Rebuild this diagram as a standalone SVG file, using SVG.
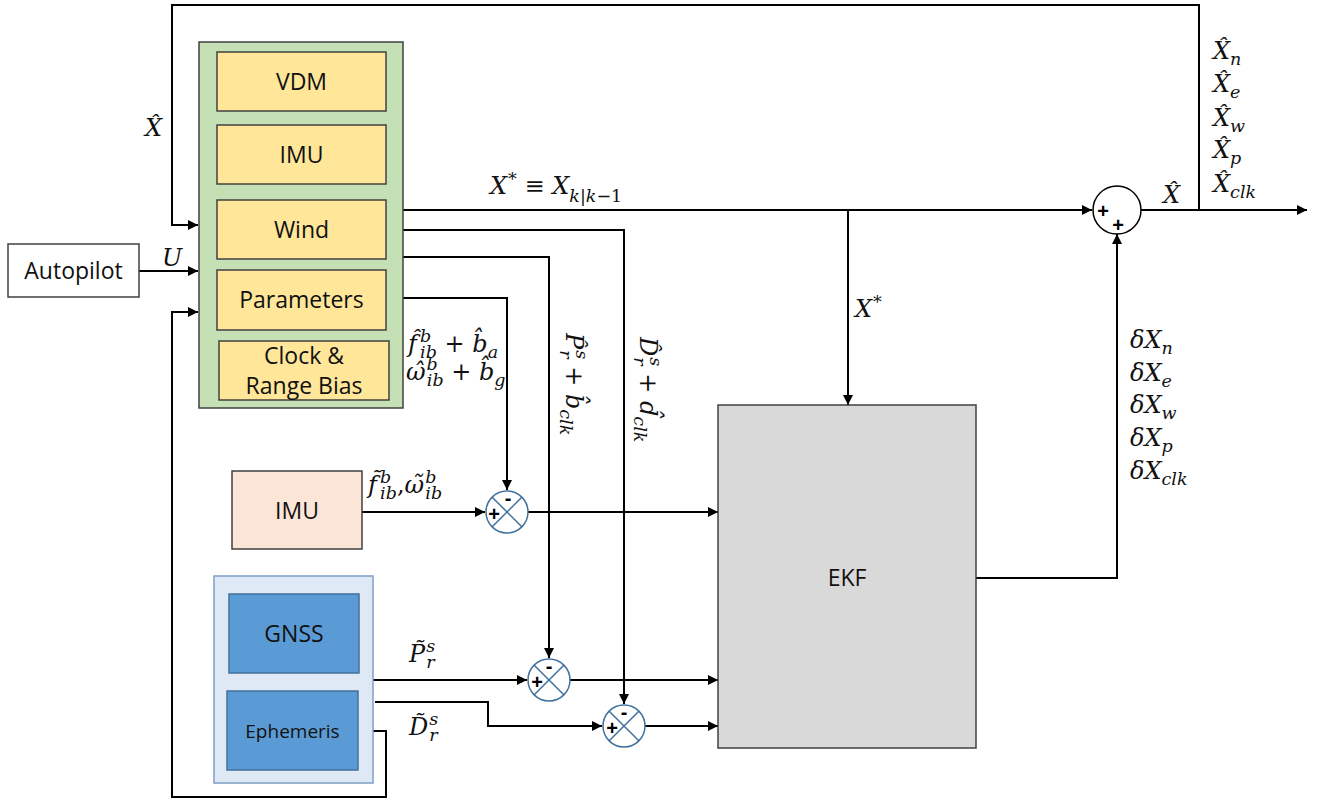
<svg xmlns="http://www.w3.org/2000/svg" width="1319" height="800" viewBox="0 0 1319 800">
<style>
.box{stroke:#404040;stroke-width:1.5}
.lbl{font-family:"Open Sans","Noto Sans",sans-serif;font-size:23px;fill:#111;text-anchor:middle}
.m{font-family:"DejaVu Serif","Liberation Serif",serif;font-style:italic;font-size:24px;fill:#111}
.u{font-style:normal}
.s{font-size:17.5px}
.wire{fill:none;stroke:#000;stroke-width:2}
.sj{fill:#fff;stroke:#41719c;stroke-width:1.5}
.sx{stroke:#41719c;stroke-width:1.5}
.sg{font-family:"Liberation Sans",Arial,sans-serif;font-weight:bold;font-size:20px;fill:#000;text-anchor:middle}
</style>
<defs>
<marker id="a" viewBox="0 0 10 10" refX="10" refY="5" markerWidth="5" markerHeight="5" orient="auto" markerUnits="strokeWidth">
<path d="M0,0 L10,5 L0,10 z" fill="#000"/>
</marker>
</defs>
<rect width="1319" height="800" fill="#fff"/>

<g id="connectors">
<path class="wire" d="M1199,210 V5 H172 V225 H198" marker-end="url(#a)"/>
<path class="wire" d="M139,271 H198" marker-end="url(#a)"/>
<path class="wire" d="M358,731 H386 V797 H172 V312 H198" marker-end="url(#a)"/>
<path class="wire" d="M403,210 H1092" marker-end="url(#a)"/>
<path class="wire" d="M848,210 V405" marker-end="url(#a)"/>
<path class="wire" d="M403,230 H624 V704" marker-end="url(#a)"/>
<path class="wire" d="M403,257 H549 V658" marker-end="url(#a)"/>
<path class="wire" d="M403,298 H507 V490" marker-end="url(#a)"/>
<path class="wire" d="M362,512 H485" marker-end="url(#a)"/>
<path class="wire" d="M528,512 H718" marker-end="url(#a)"/>
<path class="wire" d="M373,680 H527" marker-end="url(#a)"/>
<path class="wire" d="M570,680 H718" marker-end="url(#a)"/>
<path class="wire" d="M375,702 H488 V726 H602" marker-end="url(#a)"/>
<path class="wire" d="M645,726 H718" marker-end="url(#a)"/>
<path class="wire" d="M976,578 H1117 V234" marker-end="url(#a)"/>
<path class="wire" d="M1141,210 H1307" marker-end="url(#a)"/>
</g>

<g id="autopilot">
<rect class="box" x="8" y="244" width="131" height="53" fill="#fff"/>
<text class="lbl" x="73.5" y="279">Autopilot</text>
</g>

<g id="model">
<rect class="box" x="199" y="42" width="204" height="366" fill="#c5e0b4"/>
</g>
<g id="vdm">
<rect class="box" x="217" y="52" width="169" height="59" fill="#ffe699"/>
<text class="lbl" x="301.5" y="90">VDM</text>
</g>
<g id="imu-model">
<rect class="box" x="217" y="125" width="169" height="59" fill="#ffe699"/>
<text class="lbl" x="301.5" y="163">IMU</text>
</g>
<g id="wind">
<rect class="box" x="217" y="200" width="169" height="59" fill="#ffe699"/>
<text class="lbl" x="301.5" y="238">Wind</text>
</g>
<g id="parameters">
<rect class="box" x="217" y="270" width="169" height="60" fill="#ffe699"/>
<text class="lbl" x="301.5" y="308">Parameters</text>
</g>
<g id="clock">
<rect class="box" x="219" y="341" width="170" height="59" fill="#ffe699"/>
<text class="lbl" x="304" y="364">Clock &amp;</text>
<text class="lbl" x="304" y="394">Range Bias</text>
</g>

<g id="imu">
<rect class="box" x="232" y="471" width="130" height="78" fill="#fbe5d6"/>
<text class="lbl" x="297" y="519">IMU</text>
</g>

<g id="gnss-group">
<rect x="214" y="576" width="159" height="207" fill="#dee9f5" stroke="#7f9fc7" stroke-width="1.5"/>
</g>
<g id="gnss">
<rect x="229" y="594" width="130" height="79" fill="#5b9bd5" stroke="#41719c" stroke-width="1.5"/>
<text class="lbl" x="294" y="642">GNSS</text>
</g>
<g id="ephemeris">
<rect x="227" y="691" width="131" height="79" fill="#5b9bd5" stroke="#41719c" stroke-width="1.5"/>
<text class="lbl" x="292.5" y="738" style="font-size:19px">Ephemeris</text>
</g>

<g id="ekf">
<rect class="box" x="718" y="405" width="258" height="343" fill="#d9d9d9"/>
<text class="lbl" x="847" y="586">EKF</text>
</g>

<g id="sum-main">
<circle cx="1117" cy="210" r="24" fill="#fff" stroke="#000" stroke-width="1.5"/>
<text class="sg" x="1103" y="218">+</text>
<text class="sg" x="1118" y="232">+</text>
</g>

<g id="sum-imu">
<circle class="sj" cx="507" cy="512" r="21"/>
<line class="sx" x1="492.2" y1="497.2" x2="521.8" y2="526.8"/>
<line class="sx" x1="521.8" y1="497.2" x2="492.2" y2="526.8"/>
<text class="sg" x="494" y="521">+</text>
<text class="sg" x="508" y="505">-</text>
</g>
<g id="sum-p">
<circle class="sj" cx="549" cy="680" r="21"/>
<line class="sx" x1="534.2" y1="665.2" x2="563.8" y2="694.8"/>
<line class="sx" x1="563.8" y1="665.2" x2="534.2" y2="694.8"/>
<text class="sg" x="537" y="689">+</text>
<text class="sg" x="549" y="673">-</text>
</g>
<g id="sum-d">
<circle class="sj" cx="624" cy="726" r="21"/>
<line class="sx" x1="609.2" y1="711.2" x2="638.8" y2="740.8"/>
<line class="sx" x1="638.8" y1="711.2" x2="609.2" y2="740.8"/>
<text class="sg" x="612" y="735">+</text>
<text class="sg" x="624" y="719">-</text>
</g>

<g id="labels">
<text class="m" x="145" y="136">X̂</text>
<text class="m" x="162" y="266">U</text>
<text class="m" x="490" y="194">X<tspan class="s" dx="1" dy="-9">*</tspan><tspan class="u" dy="9"> ≡ </tspan>X<tspan class="s" dy="8">k<tspan class="u">|</tspan>k<tspan class="u">−1</tspan></tspan></text>
<text class="m" x="855" y="317">X<tspan class="s" dx="1" dy="-9">*</tspan></text>
<text class="m" x="1163" y="203">X̂</text>
<text class="m" x="1213" y="59">X̂<tspan class="s" dy="6">n</tspan></text>
<text class="m" x="1213" y="92">X̂<tspan class="s" dy="6">e</tspan></text>
<text class="m" x="1213" y="126">X̂<tspan class="s" dy="6">w</tspan></text>
<text class="m" x="1213" y="158">X̂<tspan class="s" dy="6">p</tspan></text>
<text class="m" x="1213" y="192">X̂<tspan class="s" dy="6">clk</tspan></text>
<text class="m" x="1130" y="348">δX<tspan class="s" dy="6">n</tspan></text>
<text class="m" x="1130" y="381">δX<tspan class="s" dy="6">e</tspan></text>
<text class="m" x="1130" y="413">δX<tspan class="s" dy="6">w</tspan></text>
<text class="m" x="1130" y="446">δX<tspan class="s" dy="6">p</tspan></text>
<text class="m" x="1130" y="479">δX<tspan class="s" dy="6">clk</tspan></text>
<text class="m" x="408" y="352">f̂<tspan class="s" dx="3" dy="-10">b</tspan><tspan class="s" dx="-11" dy="16">ib</tspan><tspan class="u" dy="-6">  + </tspan>b̂<tspan class="s" dy="6">a</tspan></text>
<text class="m" x="406" y="380">ω̂<tspan class="s" dx="1" dy="-10">b</tspan><tspan class="s" dx="-11" dy="16">ib</tspan><tspan class="u" dy="-6"> + </tspan>b̂<tspan class="s" dy="6">g</tspan></text>
<text class="m" x="368" y="493">f̃<tspan class="s" dx="3" dy="-10">b</tspan><tspan class="s" dx="-11" dy="16">ib</tspan><tspan class="u" dy="-6">,</tspan>ω̃<tspan class="s" dx="1" dy="-10">b</tspan><tspan class="s" dx="-11" dy="16">ib</tspan></text>
<text class="m" x="409" y="662">P̃<tspan class="s" dx="1" dy="-10">s</tspan><tspan class="s" dx="-9" dy="16">r</tspan></text>
<text class="m" x="409" y="735">D̃<tspan class="s" dx="1" dy="-10">s</tspan><tspan class="s" dx="-9" dy="16">r</tspan></text>
<text class="m" transform="translate(566,333) rotate(90)">P̂<tspan class="s" dx="1" dy="-10">s</tspan><tspan class="s" dx="-9" dy="16">r</tspan><tspan class="u" dy="-6"> + </tspan>b̂<tspan class="s" dy="6">clk</tspan></text>
<text class="m" transform="translate(640,337) rotate(90)">D̂<tspan class="s" dx="1" dy="-10">s</tspan><tspan class="s" dx="-9" dy="16">r</tspan><tspan class="u" dy="-6"> + </tspan>d̂<tspan class="s" dy="6">clk</tspan></text>
</g>
</svg>
